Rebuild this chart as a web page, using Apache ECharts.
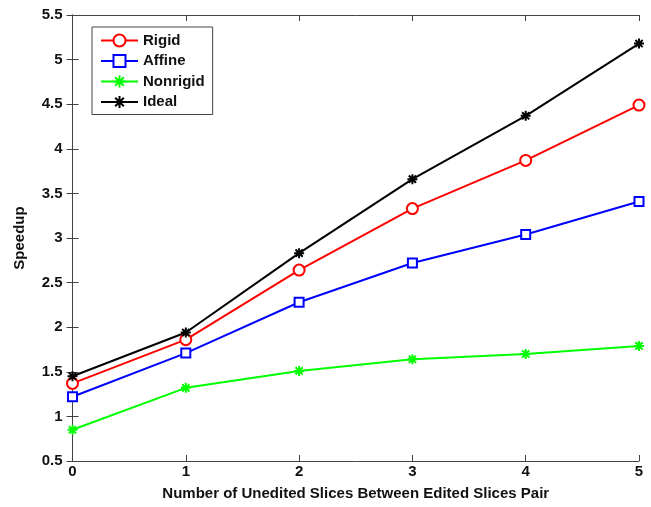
<!DOCTYPE html>
<html><head><meta charset="utf-8">
<script src="https://cdn.jsdelivr.net/npm/echarts@6/dist/echarts.min.js"></script>
<style>html,body{margin:0;padding:0;background:#fff}#c{width:651px;height:507px}</style>
</head><body><div id="c"></div>
<script>
const categories = [0, 1, 2, 3, 4, 5];
const rigid = [1.37, 1.86, 2.64, 3.33, 3.87, 4.49];
const affine = [1.22, 1.71, 2.28, 2.72, 3.04, 3.41];
const nonrigid = [0.85, 1.32, 1.51, 1.64, 1.70, 1.79];
const ideal = [1.45, 1.94, 2.83, 3.66, 4.37, 5.18];
const seriesNames = ['Rigid', 'Affine', 'Nonrigid', 'Ideal'];
const xTitle = 'Number of Unedited Slices Between Edited Slices Pair';
const yTitle = 'Speedup';

const font = '"Liberation Sans", Arial, sans-serif';
const star = 'path://M0,-5L0,5M-5,0L5,0M-3.6,-3.6L3.6,3.6M-3.6,3.6L3.6,-3.6';
const pairs = arr => categories.map((c, i) => [c, arr[i]]);
function mk(name, data, color, symbol, size) {
  return {
    name, type: 'line', data: pairs(data), color,
    symbol, symbolSize: size, showSymbol: true,
    lineStyle: { color, width: 2 },
    itemStyle: { color: symbol === star ? color : '#fff', borderColor: color, borderWidth: 2 },
    emphasis: { disabled: true }, animation: false, z: 3
  };
}
const axisLine = () => ({ show: true, lineStyle: { color: '#444', width: 1 } });
const tick = () => ({ show: true, inside: true, length: 6, lineStyle: { color: '#444' } });
const lab = (m) => ({ margin: m, color: '#111', fontFamily: font, fontWeight: 'bold', fontSize: 15 });
const nameStyle = () => ({ fontFamily: font, fontWeight: 'bold', fontSize: 15, color: '#111' });
const chart = echarts.init(document.getElementById('c'));
chart.setOption({
  backgroundColor: '#fff',
  grid: { left: 72.5, right: 12, top: 15, bottom: 46 },
  legend: {
    orient: 'vertical', left: 92, top: 27,
    data: seriesNames,
    backgroundColor: '#fff', borderColor: '#444', borderWidth: 1,
    padding: [6, 8, 5, 8], itemWidth: 37, itemHeight: 15, itemGap: 5.5,
    textStyle: { fontFamily: font, fontWeight: 'bold', fontSize: 15, color: '#111' }
  },
  xAxis: [
    { type: 'value', min: 0, max: 5, interval: 1, position: 'bottom',
      name: xTitle, nameLocation: 'middle', nameGap: 25, nameTextStyle: nameStyle(),
      axisLine: axisLine(), axisTick: tick(), axisLabel: lab(3), splitLine: { show: false } },
    { type: 'value', min: 0, max: 5, interval: 1, position: 'top',
      axisLine: axisLine(), axisTick: tick(), axisLabel: { show: false }, splitLine: { show: false } }
  ],
  yAxis: [
    { type: 'value', min: 0.5, max: 5.5, interval: 0.5, position: 'left',
      name: yTitle, nameLocation: 'middle', nameGap: 45, nameRotate: 90, nameTextStyle: nameStyle(),
      axisLine: axisLine(), axisTick: tick(), axisLabel: lab(10), splitLine: { show: false } },
    { type: 'value', min: 0.5, max: 5.5, interval: 0.5, position: 'right',
      axisLine: axisLine(), axisTick: tick(), axisLabel: { show: false }, splitLine: { show: false } }
  ],
  series: [
    mk(seriesNames[0], rigid, '#ff0000', 'circle', 11),
    mk(seriesNames[1], affine, '#0000ff', 'rect', 9),
    mk(seriesNames[2], nonrigid, '#00ff00', star, 10),
    mk(seriesNames[3], ideal, '#000000', star, 10)
  ]
});
</script></body></html>
